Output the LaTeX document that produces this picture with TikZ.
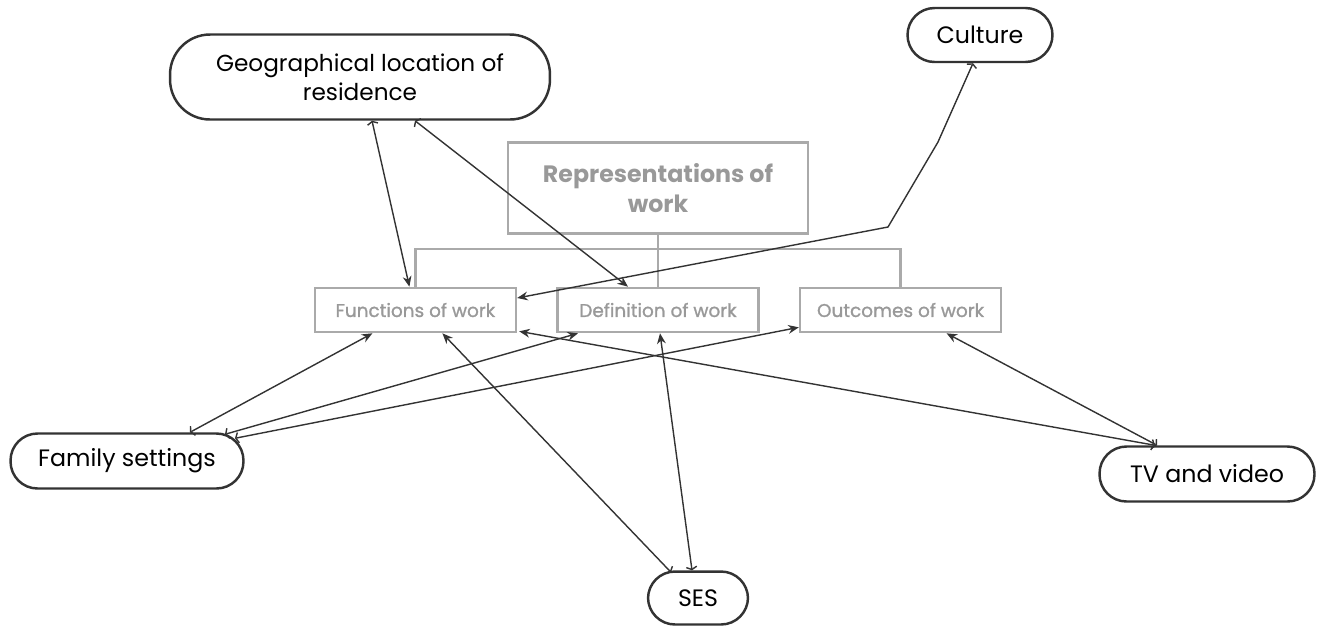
\documentclass[tikz,border=0pt]{standalone}
\usepackage{fontspec}
\setmainfont{Poppins}
\newfontfamily\partfont[FakeBold=1.2]{Poppins}
\usepackage{tikz}
\usetikzlibrary{arrows.meta,positioning,calc}
\definecolor{inkdark}{HTML}{333333}
\definecolor{boxgray}{HTML}{AAAAAA}
\definecolor{textgray}{HTML}{999999}

\begin{document}
\begin{tikzpicture}[x=0.02cm,y=-0.02cm,node distance=0.78cm,
		oval node/.style={rectangle,draw=inkdark,line width=1.4pt,align=center,
			minimum height=1.1cm,rounded corners=0.54cm,font=\fontsize{13.5}{16}\selectfont},
		part node/.style={rectangle,draw=boxgray,line width=1.5pt,text=textgray,
			minimum width=4.02cm,minimum height=0.88cm,font=\partfont\fontsize{10.5}{12}\selectfont},
		link/.style={draw=inkdark,line width=0.8pt,
			{Straight Barb[length=1.5pt,width=6pt]}-{Stealth[length=6pt,width=5pt]}},
		treeline/.style={draw=boxgray,line width=1.5pt}]
			\useasboundingbox (0,0) rectangle (1325,627);
			% Nodes
			  \node[part node] (def) at (658,310) {Definition of work};
			  \node[part node] (func) [left=of def] {Functions of work};
			  \node[part node] (out) [right=of def] {Outcomes of work};
			  \node[rectangle,draw=boxgray,line width=1.5pt,text=textgray,align=center,
			        minimum width=6cm,minimum height=1.82cm,
			        font=\fontsize{13.5}{17}\selectfont\bfseries] (rep) at (658,188) {Representations of\\work};
			  \node[oval node,minimum width=7.6cm,minimum height=1.7cm,rounded corners=0.8cm,
			        font=\fontsize{13.2}{16.5}\selectfont] (geo) at (360,77) {Geographical location of\\residence};
			  \node[oval node,minimum width=2.9cm,minimum height=1.08cm] (culture) at (980,35) {Culture};
			  \node[oval node,minimum width=4.66cm] (fam) at (127,461) {Family settings};
			  \node[oval node,minimum width=4.3cm] (tv) at (1207,474) {TV and video};
			  \node[oval node,minimum width=2cm,minimum height=1.06cm] (ses) at (698,598) {SES};

			% Tree
			  \draw[treeline] (func.north) |- ($(rep.south)+(0,14)$) -| (out.north);
			  \draw[treeline] (rep.south) -- (def.north);

			% Edges
			  \draw[link] ($(geo.south)+(12,0)$) -- ($(func.north)+(-6,0)$);
			  \draw[link] ($(geo.south)+(55,0)$) -- ($(def.north)+(-30,0)$);
			  \draw[link] ($(culture.south)+(-7,0)$) -- (938,142) -- (888,227) -- ($(func.east)+(0,-12)$);
			  \draw[link] ($(fam.north)+(63,0)$) -- ($(func.south)+(-43,0)$);
			  \draw[link] ($(fam.north)+(98,2)$) -- ($(def.south)+(-80,0)$);
			  \draw[link] ($(fam.north)+(108,6)$) -- ($(out.south west)+(0,-6)$);
			  \draw[link] ($(ses.north)+(-27,2)$) -- ($(func.south)+(27,0)$);
			  \draw[link] ($(ses.north)+(-6,0)$) -- ($(def.south)+(2,0)$);
			  \draw[link] ($(tv.north)+(-52,0)$) -- ($(func.south east)+(2,-2)$);
			  \draw[link] ($(tv.north)+(-50,0)$) -- ($(out.south)+(46,0)$);
			\end{tikzpicture}
\end{document}
